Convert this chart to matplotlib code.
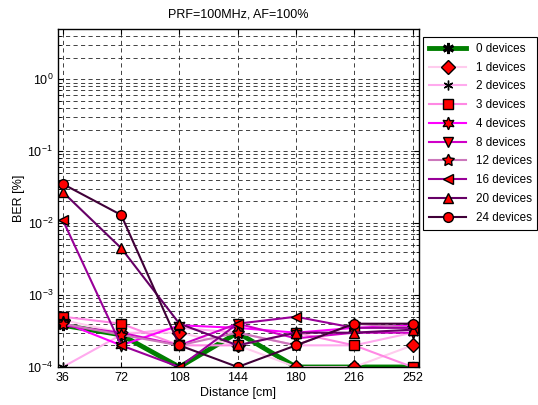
import matplotlib
matplotlib.use('Agg')
import matplotlib.pyplot as plt
from matplotlib.ticker import LogLocator, NullFormatter

plt.rcParams['font.family'] = ['Liberation Sans', 'DejaVu Sans']
plt.rcParams['mathtext.fontset'] = 'custom'
plt.rcParams['mathtext.rm'] = 'Liberation Sans'

distance = [36, 72, 108, 144, 180, 216, 252]

labels = ['0 devices', '1 devices', '2 devices', '3 devices', '4 devices',
          '8 devices', '12 devices', '16 devices', '20 devices', '24 devices']

ber_0 = [3.8e-4, 2.8e-4, 1e-4, 3e-4, 1e-4, 1e-4, 1e-4]
ber_1 = [4.5e-4, 3e-4, 3e-4, 2e-4, 1e-4, 1e-4, 2e-4]
ber_2 = [1e-4, 2.8e-4, 3.5e-4, 3e-4, 2e-4, 2e-4, 3e-4]
ber_3 = [5e-4, 4e-4, 2e-4, 2e-4, 3e-4, 2e-4, 1e-4]
ber_4 = [4.2e-4, 2e-4, 3.8e-4, 3.5e-4, 3e-4, 3.5e-4, 3.8e-4]
ber_8 = [3.8e-4, 3e-4, 2e-4, 4e-4, 2.5e-4, 3e-4, 3e-4]
ber_12 = [4e-4, 2.8e-4, 2e-4, 3e-4, 2e-4, 4e-4, 3.5e-4]
ber_16 = [1.1e-2, 2e-4, 1e-4, 4e-4, 5e-4, 3.5e-4, 3.5e-4]
ber_20 = [2.7e-2, 4.5e-3, 4e-4, 2e-4, 3e-4, 3e-4, 3.3e-4]
ber_24 = [3.5e-2, 1.3e-2, 2e-4, 1e-4, 2e-4, 4e-4, 4e-4]

series = [ber_0, ber_1, ber_2, ber_3, ber_4, ber_8, ber_12, ber_16, ber_20, ber_24]
colors = ['#007f00', '#ffccee', '#ffaaee', '#ff88e4', '#ff00ff',
          '#d000c8', '#cc77bb', '#990099', '#660066', '#400038']
# MATLAB-like markers: asterisk, diamond, asterisk, square, hexagram, ...
markers = [(6, 2, 0), 'D', (6, 2, 0), 's', (6, 1, 0), 'v', (5, 1, 0), '<', '^', 'o']
sizes = [8, 7, 7, 7, 9, 7, 9, 7, 7, 7]
widths = [3.5, 1.5, 1.5, 1.5, 1.5, 1.5, 1.5, 1.5, 1.5, 1.5]

fig = plt.figure(figsize=(5.38, 4.05), dpi=100)
ax = fig.add_axes([58 / 538, 38 / 405, 361 / 538, 338 / 405])

for i, vals in enumerate(series):
    face = 'black' if i in (0, 2) else 'red'
    mew = 2.0 if i == 0 else 1.0
    ax.plot(distance, vals, color=colors[i], lw=widths[i], marker=markers[i],
            ms=sizes[i], mfc=face, mec='black', mew=mew, label=labels[i])

ax.set_yscale('log')
ax.set_xlim(33, 256)
ax.set_ylim(1e-4, 5)
ax.set_xticks(distance)
ax.yaxis.set_major_locator(LogLocator(base=10, numticks=10))
ax.yaxis.set_minor_locator(LogLocator(base=10, subs=range(2, 10), numticks=20))
ax.yaxis.set_minor_formatter(NullFormatter())

ax.grid(True, which='major', axis='both', color='#222222', ls=(0, (5, 4)), lw=0.6)
ax.grid(True, which='minor', axis='y', color='#222222', ls=(0, (5, 4)), lw=0.6)
ax.set_axisbelow(True)

ax.tick_params(which='both', direction='in', top=True, right=True, labelsize=9)
for s in ax.spines.values():
    s.set_linewidth(1.0)

ax.set_title('PRF=100MHz, AF=100%', fontsize=9, pad=8)
ax.set_xlabel('Distance [cm]', fontsize=9, labelpad=2)
ax.set_ylabel('BER [%]', fontsize=9, labelpad=2)

leg = ax.legend(loc='upper left', bbox_to_anchor=(423 / 538, 1 - 37 / 405),
                bbox_transform=fig.transFigure, fontsize=8.4, handlelength=3.2,
                handletextpad=0.8, labelspacing=0.58, borderaxespad=0,
                borderpad=0.5, fancybox=False, framealpha=1, edgecolor='black')
leg.get_frame().set_linewidth(0.8)

fig.savefig('out.png', dpi=100)
